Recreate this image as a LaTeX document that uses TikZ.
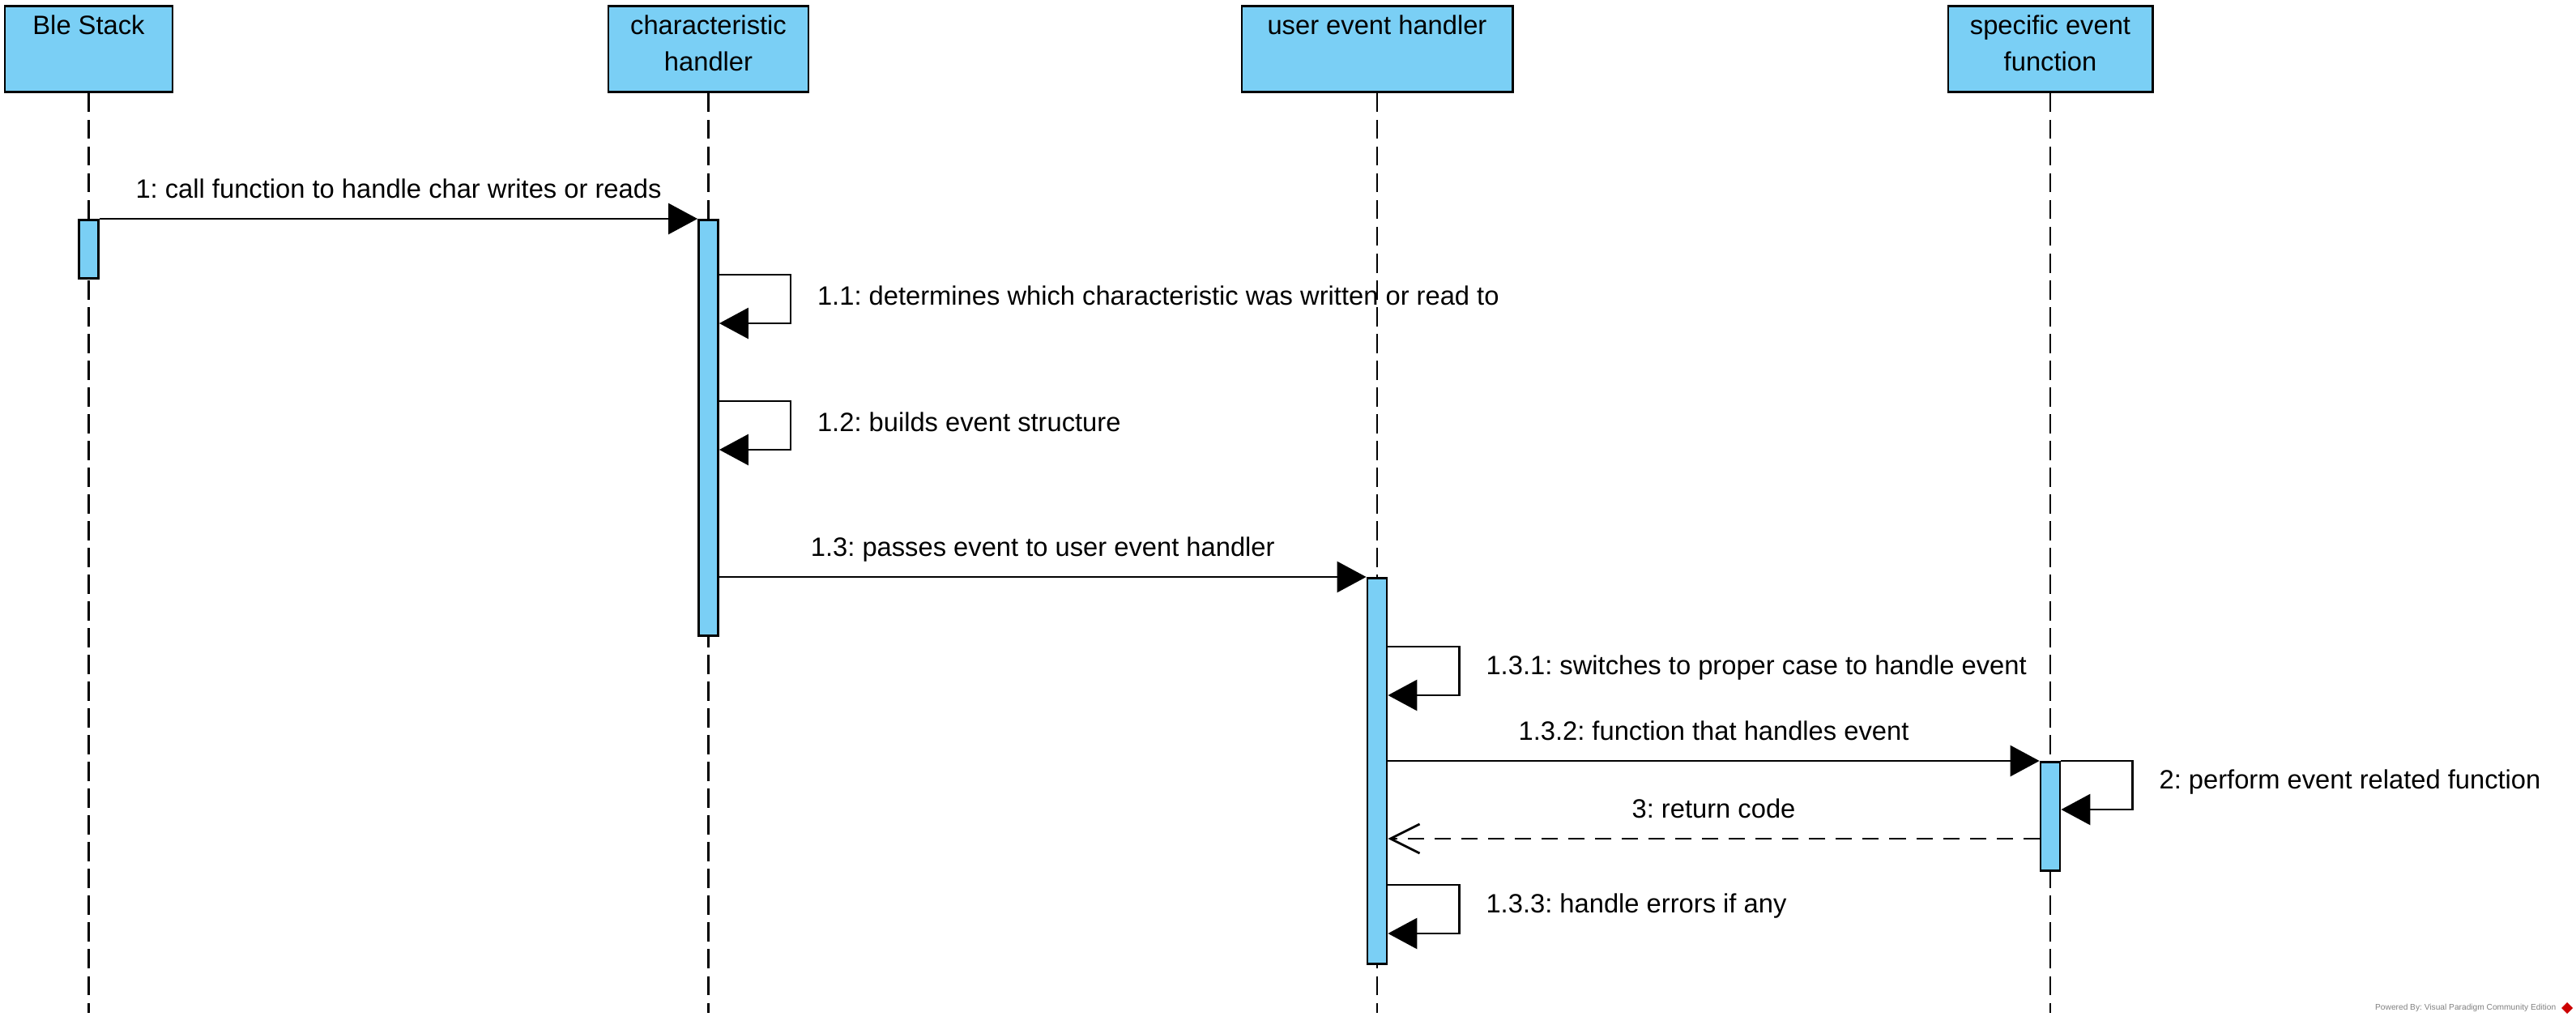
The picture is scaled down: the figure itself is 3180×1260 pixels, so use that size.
\documentclass[tikz,border=0pt]{standalone}
\usepackage{fontspec}
\setmainfont{Liberation Sans}
\usetikzlibrary{arrows.meta}
\definecolor{lifeblue}{RGB}{122,207,245}
\frenchspacing
\begin{document}
\begin{tikzpicture}[x=0.01cm, y=-0.01cm,
  every node/.style={font=\fontsize{9.3}{12.8}\selectfont},
  head/.style={draw, line width=0.8pt, fill=lifeblue, anchor=north, minimum height=1.06cm, inner sep=0pt},
  headtext/.style={anchor=north, align=center, inner ysep=0.12cm},
  bar/.style={draw, line width=0.8pt, fill=lifeblue, anchor=north, minimum width=0.24cm, inner sep=0pt},
  lifeline/.style={line width=0.6pt, dash pattern=on 0.235cm off 0.095cm},
  msg/.style={line width=0.8pt, -{Triangle[length=0.36cm, width=0.38cm]}},
  reply/.style={line width=0.8pt, dash pattern=on 0.2cm off 0.13cm, -{Straight Barb[length=0.36cm, width=0.36cm]}},
  msglabel/.style={midway, anchor=base, yshift=0.25cm},
  selflabel/.style={midway, anchor=west, xshift=0.2cm, yshift=0.04cm}]
  \useasboundingbox (0,0) rectangle (3180,1260);
  \node[head, minimum width=2.07cm, label={[headtext, name=bletext]north:Ble Stack}] (ble) at (109.5,6) {};
  \node[head, minimum width=2.47cm, label={[headtext, name=chartext]north:characteristic\\handler}] (char) at (874.5,6) {};
  \node[head, minimum width=3.34cm, label={[headtext, name=usertext]north:user event handler}] (user) at (1700,6) {};
  \node[head, minimum width=2.52cm, label={[headtext, name=spectext]north:specific event\\function}] (spec) at (2531,6) {};
  \coordinate (bottom) at (0,1250);
  \draw[lifeline] (ble.south) -- (ble.south |- bottom);
  \draw[lifeline] (char.south) -- (char.south |- bottom);
  \draw[lifeline] (user.south) -- (user.south |- bottom);
  \draw[lifeline] (spec.south) -- (spec.south |- bottom);
  \node[bar, minimum height=0.72cm] (bleact) at (ble.south |- 0,270) {};
  \node[bar, minimum height=5.13cm] (charact) at (char.south |- 0,270) {};
  \node[bar, minimum height=4.76cm] (useract) at (user.south |- 0,712) {};
  \node[bar, minimum height=1.34cm] (specact) at (spec.south |- 0,939) {};
  \draw[msg] (bleact.north east) -- (charact.north west)
    node[msglabel] {1: call function to handle char writes or reads};
  \draw[msg] (charact.east |- 0,339) -- ++(88,0) -- ++(0,60)
    node[selflabel] {1.1: determines which characteristic was written or read to} -- (charact.east |- 0,399);
  \draw[msg] (charact.east |- 0,495) -- ++(88,0) -- ++(0,60)
    node[selflabel] {1.2: builds event structure} -- (charact.east |- 0,555);
  \draw[msg] (charact.east |- useract.north) -- (useract.north west)
    node[msglabel] {1.3: passes event to user event handler};
  \draw[msg] (useract.east |- 0,798) -- ++(88,0) -- ++(0,60)
    node[selflabel] {1.3.1: switches to proper case to handle event} -- (useract.east |- 0,858);
  \draw[msg] (useract.east |- specact.north) -- (specact.north west)
    node[msglabel] {1.3.2: function that handles event};
  \draw[msg] (specact.north east) -- ++(88,0) -- ++(0,60)
    node[selflabel] {2: perform event related function} -- (specact.east |- 0,999);
  \draw[reply] (specact.west |- 0,1035) -- (useract.east |- 0,1035)
    node[msglabel] {3: return code};
  \draw[msg] (useract.east |- 0,1092) -- ++(88,0) -- ++(0,60)
    node[selflabel] {1.3.3: handle errors if any} -- (useract.east |- 0,1152);
  \node[font=\fontsize{2.9}{3}\selectfont, text=gray, anchor=east, inner sep=0pt] (vp) at (3156,1244) {Powered By: Visual Paradigm Community Edition};
  \fill[red!80!black] ([xshift=0.06cm]vp.east) -- ++(7,-7) -- ++(7,7) -- ++(-7,7) -- cycle;
\end{tikzpicture}
\end{document}
